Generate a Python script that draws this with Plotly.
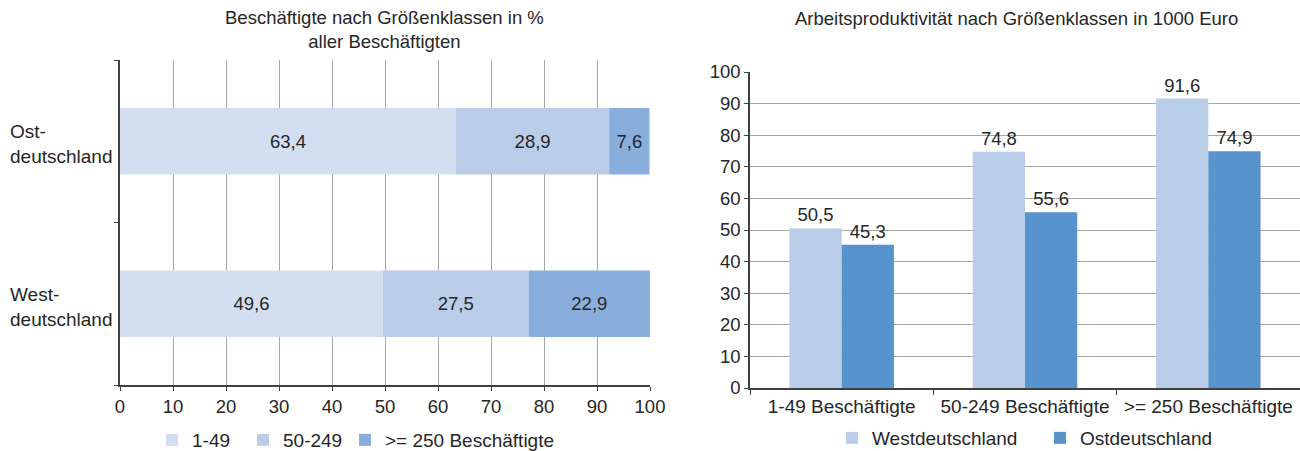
import plotly.graph_objects as go

# Left panel: employment share by firm size class (percent of all employees)
regions = ["Westdeutschland", "Ostdeutschland"]
region_labels = ["West-<br>deutschland", "Ost-<br>deutschland"]
size_classes = ["1-49", "50-249", ">= 250 Beschäftigte"]
share_1_49 = [49.6, 63.4]
share_50_249 = [27.5, 28.9]
share_250 = [22.9, 7.6]

# Right panel: labour productivity by size class (1000 Euro)
prod_categories = ["1-49 Beschäftigte", "50-249 Beschäftigte", ">= 250 Beschäftigte"]
prod_west = [50.5, 74.8, 91.6]
prod_east = [45.3, 55.6, 74.9]

FONT = "Liberation Sans, Arial, sans-serif"
TXT = "#262626"
FS = 19          # labels, legends, titles
FS_NUM = 18.5    # numeric tick labels and bar values
share_colors = ["#D3DEF0", "#B9CDE8", "#8AAEDB"]
west_color = "#B9CDE8"
east_color = "#5794CE"

W, H = 1300, 451


def py(px):
    return 1 - px / H


def de(v):
    return f"{v:.1f}".replace(".", ",")


fig = go.Figure()

# stacked horizontal bars, bases accumulated from the shares
series = [share_1_49, share_50_249, share_250]
bases = [[0.0] * len(regions)]
for i in range(1, len(series)):
    bases.append([b + v for b, v in zip(bases[i - 1], series[i - 1])])

share_legends = ["legend", "legend2", "legend3"]
for name, vals, base, col, lg in zip(size_classes, series, bases, share_colors, share_legends):
    fig.add_trace(go.Bar(
        y=regions, x=vals, base=base, orientation="h", name=name,
        marker=dict(color=col, line=dict(width=0)),
        width=0.41, offset=-0.205, offsetgroup="share",
        text=[de(v) for v in vals], textposition="inside",
        insidetextanchor="middle", constraintext="none",
        textfont=dict(family=FONT, size=FS_NUM, color=TXT),
        xaxis="x", yaxis="y", legend=lg, hoverinfo="skip",
    ))

# grouped productivity bars
bw = 0.285
fig.add_trace(go.Bar(
    x=prod_categories, y=prod_west, name="Westdeutschland",
    marker=dict(color=west_color, line=dict(width=0)),
    width=bw, offset=-bw, text=[de(v) for v in prod_west],
    textposition="outside", cliponaxis=False,
    textfont=dict(family=FONT, size=FS_NUM, color=TXT),
    xaxis="x2", yaxis="y2", legend="legend4", hoverinfo="skip",
))
fig.add_trace(go.Bar(
    x=prod_categories, y=prod_east, name="Ostdeutschland",
    marker=dict(color=east_color, line=dict(width=0)),
    width=bw, offset=0, text=[de(v) for v in prod_east],
    textposition="outside", cliponaxis=False,
    textfont=dict(family=FONT, size=FS_NUM, color=TXT),
    xaxis="x2", yaxis="y2", legend="legend5", hoverinfo="skip",
))


def legend_at(x_px, y_px):
    return dict(
        orientation="h", x=x_px / W, xanchor="left", y=py(y_px), yanchor="middle",
        font=dict(size=FS, color=TXT), bgcolor="rgba(0,0,0,0)", borderwidth=0,
    )


axis_line = dict(showline=True, linecolor="#404040", linewidth=1.5,
                 tickcolor="#404040", automargin=False, zeroline=False)

fig.update_layout(
    width=W, height=H,
    margin=dict(l=0, r=0, t=0, b=0, autoexpand=False),
    paper_bgcolor="white", plot_bgcolor="white",
    font=dict(family=FONT, size=FS, color=TXT),
    barmode="group",
    showlegend=True,
    xaxis=dict(
        domain=[120 / W, 650 / W], range=[0, 100], dtick=10,
        showgrid=True, gridcolor="#A6A6A6", gridwidth=1,
        ticks="outside", ticklen=4, tickfont=dict(size=FS_NUM),
        anchor="y", **axis_line,
    ),
    yaxis=dict(
        domain=[py(385), py(60)], type="category",
        categoryorder="array", categoryarray=regions,
        ticks="outside", ticklen=4, tickson="boundaries",
        showticklabels=False, showgrid=False, anchor="x", **axis_line,
    ),
    xaxis2=dict(
        domain=[750 / W, 1.0], type="category",
        ticks="outside", ticklen=5, tickson="boundaries", showgrid=False,
        tickfont=dict(size=FS), anchor="y2", **axis_line,
    ),
    yaxis2=dict(
        domain=[py(388), py(72)], range=[0, 100], dtick=10,
        showgrid=True, gridcolor="#A6A6A6", gridwidth=1,
        ticks="outside", ticklen=4, tickfont=dict(size=FS_NUM),
        anchor="x2", **axis_line,
    ),
    legend=legend_at(152, 440),
    legend2=legend_at(243, 440),
    legend3=legend_at(345, 440),
    legend4=legend_at(832, 438),
    legend5=legend_at(1040, 438),
)

# region labels, left-aligned next to the bars
for reg, lab in zip(regions, region_labels):
    fig.add_annotation(
        x=8 / W, xref="paper", xanchor="left", y=reg, yref="y",
        yanchor="middle", yshift=-3, text=lab, align="left", showarrow=False,
        font=dict(size=FS, color=TXT),
    )

# panel titles
fig.add_annotation(
    x=384 / W, xref="paper", xanchor="center", y=py(29), yref="paper",
    yanchor="middle",
    text="Beschäftigte nach Größenklassen in %<br>aller Beschäftigten",
    showarrow=False, font=dict(size=FS - 0.5, color=TXT), align="center",
)
fig.add_annotation(
    x=1017 / W, xref="paper", xanchor="center", y=py(18), yref="paper",
    yanchor="middle",
    text="Arbeitsproduktivität nach Größenklassen in 1000 Euro",
    showarrow=False, font=dict(size=FS - 0.5, color=TXT), align="center",
)

fig.write_html("out.html")
